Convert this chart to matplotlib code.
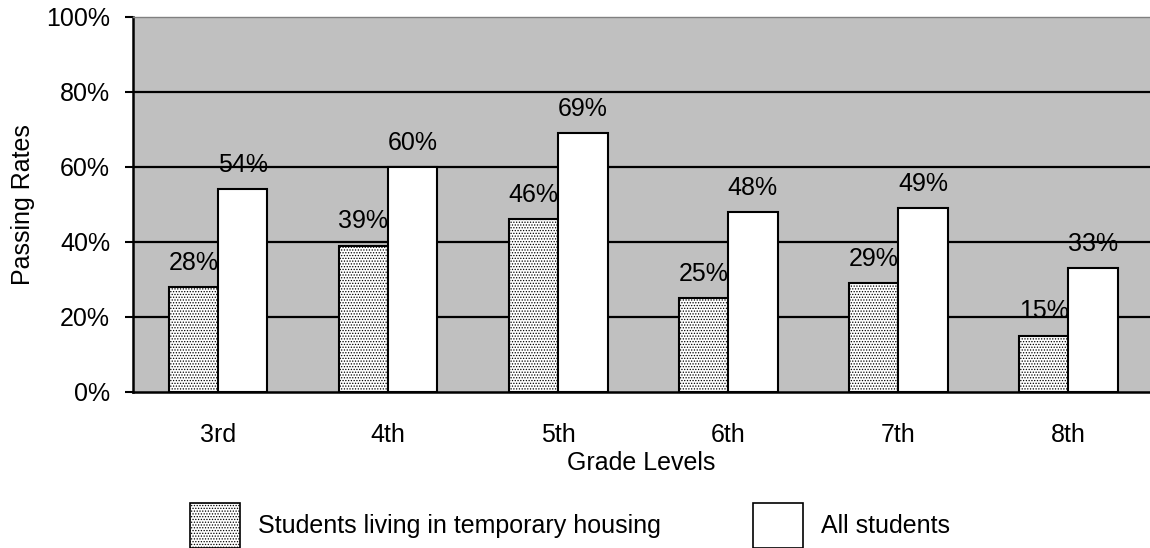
import matplotlib.pyplot as plt
import matplotlib.patches as mpatches
import numpy as np

grades = ['3rd', '4th', '5th', '6th', '7th', '8th']
temp_housing = [28, 39, 46, 25, 29, 15]
all_students = [54, 60, 69, 48, 49, 33]
series_names = ['Students living in temporary housing', 'All students']

plt.rcParams['font.family'] = ['Liberation Sans', 'DejaVu Sans']
plt.rcParams['font.size'] = 18
plt.rcParams['hatch.linewidth'] = 0.6

fig = plt.figure(figsize=(11.5, 5.48), dpi=100)
ax = fig.add_axes([0.1157, 0.2847, 0.8843, 0.6843])
ax.set_facecolor('#c0c0c0')

x = np.arange(len(grades))
w = 0.29

# gridlines behind bars
for yv in [20, 40, 60, 80]:
    ax.axhline(yv, color='black', lw=1.6, zorder=1)

b1 = ax.bar(x - w / 2, temp_housing, w, color='white', edgecolor='black',
            hatch='......', lw=1.5, zorder=2)
b2 = ax.bar(x + w / 2, all_students, w, color='white', edgecolor='black',
            lw=1.5, zorder=2)

for rect, v in zip(b1, temp_housing):
    ax.text(rect.get_x() + rect.get_width() / 2, v + 6.5, f'{v}%',
            ha='center', va='center', zorder=3)
for rect, v in zip(b2, all_students):
    ax.text(rect.get_x() + rect.get_width() / 2, v + 6.5, f'{v}%',
            ha='center', va='center', zorder=3)

ax.set_xlim(-0.5, 5.48)
ax.set_ylim(0, 100)
ax.set_yticks([0, 20, 40, 60, 80, 100])
ax.set_yticklabels([f'{v}%' for v in [0, 20, 40, 60, 80, 100]])
ax.set_xticks(x)
ax.set_xticklabels(grades)
ax.tick_params(axis='y', length=6, width=1.5, pad=10.5)
ax.tick_params(axis='x', length=0, pad=22)

ax.spines['left'].set_linewidth(1.8)
ax.spines['bottom'].set_linewidth(1.8)
ax.spines['top'].set_color('#808080')
ax.spines['top'].set_linewidth(1.0)
ax.spines['right'].set_visible(False)

ax.set_xlabel('Grade Levels', labelpad=3)
ax.set_ylabel('Passing Rates', labelpad=8)

handles = [
    mpatches.Patch(facecolor='white', edgecolor='black', hatch='......', lw=1.2),
    mpatches.Patch(facecolor='white', edgecolor='black', lw=1.2),
]
fig.legend(handles, series_names, ncol=2, frameon=False,
           loc='upper left', bbox_to_anchor=(0.165, 0.082),
           handlelength=2.0, handleheight=2.4, handletextpad=0.72,
           columnspacing=3.7, borderpad=0, borderaxespad=0)

plt.savefig('out.png', dpi=100)
